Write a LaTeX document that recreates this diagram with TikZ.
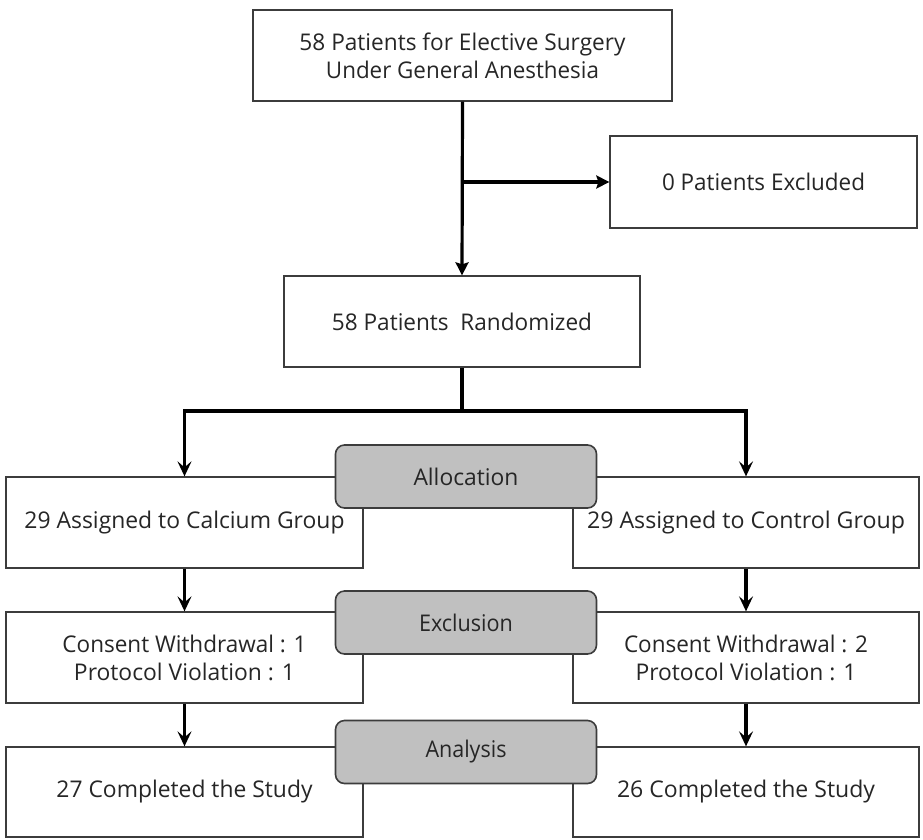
\documentclass[tikz,border=0pt]{standalone}
\usepackage{fontspec}
\setmainfont{Open Sans}
\usetikzlibrary{arrows.meta}
\definecolor{boxc}{HTML}{3C3C3C}
\definecolor{tagc}{HTML}{C0C0C0}
\definecolor{txt}{HTML}{262626}
\newcommand{\fitw}[2]{\resizebox{#1}{\height}{#2}}
\begin{document}
\begin{tikzpicture}[x=1pt,y=-1pt,
  box/.style={draw=boxc, line width=1.3pt, fill=white, inner sep=0pt, text=txt,
    font=\fontsize{23pt}{28pt}\selectfont, align=center},
  tag/.style={draw=boxc, line width=1.6pt, fill=tagc, rounded corners=9pt, inner sep=0pt,
    text=txt, font=\fontsize{23pt}{28pt}\selectfont, align=center,
    minimum width=261pt, minimum height=63pt},
  conn/.style={line width=3.2pt, black, line join=miter},
  toptip/.style={-{Stealth[length=13pt,width=13pt,inset=2pt]}},
  lowtip/.style={-{Stealth[length=15pt,width=14pt,inset=6pt]}},
  bothtip/.style={{Stealth[length=15pt,width=14pt,inset=6pt]}-{Stealth[length=15pt,width=14pt,inset=6pt]}}
]
\useasboundingbox (0,0) rectangle (923,839);
\fill[white] (0,0) rectangle (923,839);

% boxes
\node[box, minimum width=419pt, minimum height=91pt] (top) at (462.5,55.5)
  {\fitw{326pt}{58 Patients for Elective Surgery}\\\fitw{273pt}{Under General Anesthesia}};
\node[box, minimum width=307pt, minimum height=92pt] (excl) at (763.5,182)
  {\fitw{203pt}{0 Patients Excluded}};
\node[box, minimum width=356pt, minimum height=91pt] (rand) at (462,321.5)
  {\fitw{260pt}{58 Patients\ \ Randomized}};
\node[box, minimum width=357pt, minimum height=91pt] (calc) at (184.5,522.5)
  {\fitw{320pt}{29 Assigned to Calcium Group}};
\node[box, minimum width=346pt, minimum height=91pt] (ctrl) at (746,522.5)
  {\fitw{318pt}{29 Assigned to Control Group}};
\node[box, minimum width=357pt, minimum height=91pt] (wl) at (184.5,657.5)
  {\fitw{244pt}{Consent Withdrawal : 1}\\\fitw{221pt}{Protocol Violation : 1}};
\node[box, minimum width=346pt, minimum height=91pt] (wr) at (746,657.5)
  {\fitw{244pt}{Consent Withdrawal : 2}\\\fitw{221pt}{Protocol Violation : 1}};
\node[box, minimum width=357pt, minimum height=90pt] (cl) at (184.5,792)
  {\fitw{256pt}{27 Completed the Study}};
\node[box, minimum width=346pt, minimum height=90pt] (cr) at (746,792)
  {\fitw{258pt}{26 Completed the Study}};

% stage tags
\node[tag] (alloc) at (466,476.5) {\fitw{105pt}{Allocation}};
\node[tag] (exclu) at (466,622.5) {\fitw{94pt}{Exclusion}};
\node[tag] (anal)  at (466,752)   {\fitw{81pt}{Analysis}};

% connectors
\draw[conn, toptip] (top.south) -- (rand.north);
\draw[conn, toptip] (top.south |- excl.west) -- (excl.west);
\coordinate (split) at (462,411);
\draw[conn] (rand.south) -- (split);
\draw[conn, bothtip] (calc.north) -- (calc.north |- split) -- (ctrl.north |- split) -- (ctrl.north);
\draw[conn, lowtip] (calc.south) -- (wl.north);
\draw[conn, lowtip] (ctrl.south) -- (wr.north);
\draw[conn, lowtip] (wl.south) -- (cl.north);
\draw[conn, lowtip] (wr.south) -- (cr.north);
\end{tikzpicture}
\end{document}
